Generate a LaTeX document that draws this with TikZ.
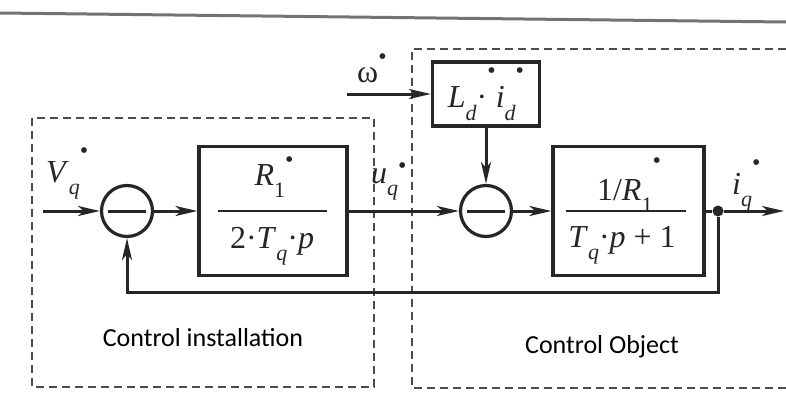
\documentclass[tikz,border=0pt]{standalone}
\usepackage{fontspec}
\setmainfont{Liberation Serif}
\newfontfamily\labfont{Carlito}
\usetikzlibrary{arrows.meta}
\newcommand\lo[1]{\raisebox{-.4em}{\fontsize{22}{22}\selectfont\itshape #1}}
\newcommand\lon[1]{\raisebox{-.4em}{\fontsize{22}{22}\selectfont #1}}
\newcommand\dotup[1][.8em]{\raisebox{#1}{\fontsize{24}{24}\selectfont\textbullet}}
\begin{document}
\begin{tikzpicture}
[x=1pt,y=-1pt,color=black!85,
 every node/.style={inner sep=0pt,font=\fontsize{32}{36}\selectfont},
 block/.style={rectangle,draw,line width=3.2pt},
 sum/.style={circle,draw,line width=3.2pt,minimum size=51pt,
  path picture={\draw[line width=3pt] ([xshift=-19pt]path picture bounding box.center) -- ([xshift=19pt]path picture bounding box.center);}},
 flow/.style={line width=3pt,-{Stealth[length=22pt,width=10pt,inset=6pt]}},
 frame/.style={dashed,dash pattern=on 8pt off 5pt,line width=2.4pt,black!70},
 caption/.style={font=\labfont\fontsize{26}{30}\selectfont,black}]
\useasboundingbox (0,0) rectangle (786,394);
\draw[black!55,line width=3pt] (0,13) -- (786,22);
\draw[frame] (32,118) rectangle (374,387);
\draw[frame] (786,49) -| (412,388) -- (786,388);
\coordinate (vin) at (43,211);
\coordinate (win) at (347,94);
\coordinate (iout) at (784,211);
\node[sum] (s1) at (127,211) {};
\node[block,minimum width=148pt,minimum height=129pt] (reg) at (273,211) {};
\node[sum] (s2) at (486,211) {};
\node[block,minimum width=107pt,minimum height=64pt] (emf) at (486,94) {\textit{L}\lo{d}·\dotup[.9em]\textit{i}\lo{d}\dotup[.9em]};
\node[block,minimum width=151pt,minimum height=129pt] (obj) at (628.5,211) {};
\node[circle,fill,minimum size=11pt] (br) at (718,211) {};
\node[anchor=base] (regnum) at (274,185) {\textit{R}\lon{1}\dotup[.55em]};
\node[anchor=base] (regden) at (272,248) {2·\textit{T}\lo{q}·\textit{p}};
\node[anchor=base] (objnum) at (629,200) {1/\textit{R}\lon{1}\dotup[1em]};
\node[anchor=base] (objden) at (622,247) {\textit{T}\lo{q}·\textit{p} + 1};
\draw[line width=2.5pt] ([xshift=-55pt]reg.center) -- ([xshift=54pt]reg.center);
\draw[line width=2.5pt] ([xshift=-63pt]obj.center) -- ([xshift=57pt]obj.center);
\node[anchor=base west] (vq) at (46,182) {\textit{V}\lo{q}\dotup[.75em]};
\node[anchor=base west] (uq) at (371,183) {\textit{u}\lo{q}\dotup[.3em]};
\node[anchor=base west] (om) at (357,82) {ω\dotup[.55em]};
\node[anchor=base west] (iq) at (732,194) {\textit{i}\lo{q}\dotup[.75em]};
\node[caption] (inst) at (203,338) {Control installation};
\node[caption] (plant) at (602,347) {Control Object};
\draw[flow] (vin) -- (s1);
\draw[flow] (s1) -- (reg);
\draw[flow] (reg) -- (s2);
\draw[flow] (win) -- (emf);
\draw[flow] (emf) -- (s2);
\draw[flow] (s2) -- (obj);
\draw[line width=3pt] (obj) -- (br);
\draw[flow] (br) -- (iout);
\draw[flow] (br) -- ++(0,81) -| (s1);
\end{tikzpicture}
\end{document}
